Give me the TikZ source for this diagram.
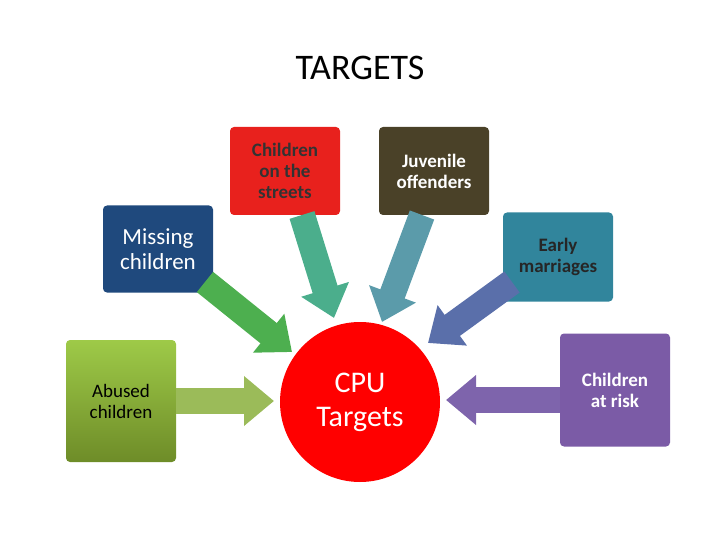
\documentclass[tikz,border=0pt]{standalone}
\usepackage{fontspec}
\setmainfont{Carlito}
\usetikzlibrary{arrows.meta}
\begin{document}
\begin{tikzpicture}[x=1pt,y=-1pt,
 box/.style={rounded corners=4pt,minimum width=110pt,align=center,font=\fontsize{19}{21}\selectfont\bfseries},
 blk/.style={line width=26pt,-{Triangle[length=30pt,width=48pt]}}]
\useasboundingbox (0,0) rectangle (720,540);
\node (title) at (360,68) {\fontsize{36}{40}\selectfont TARGETS};
\node[circle,fill=red,minimum size=160pt,text=white,align=center,font=\fontsize{30}{34}\selectfont] (cpu) at (360,402) {CPU\\Targets};
\node[box,minimum height=122pt,top color={rgb,255:red,158;green,202;blue,72},bottom color={rgb,255:red,110;green,140;blue,40},font=\fontsize{19}{21}\selectfont] (ab) at (121,401) {Abused\\children};
\node[box,minimum height=87pt,fill={rgb,255:red,31;green,73;blue,125},text=white,font=\fontsize{23}{25}\selectfont] (mi) at (158,249) {Missing\\children};
\node[box,minimum height=88pt,fill={rgb,255:red,232;green,33;blue,29},text=black!80] (st) at (285,171) {Children\\on the\\streets};
\node[box,minimum height=88pt,fill={rgb,255:red,74;green,65;blue,40},text=white] (ju) at (434,171) {Juvenile\\offenders};
\node[box,minimum height=89pt,fill={rgb,255:red,49;green,133;blue,156},text=black!85] (ea) at (558,257) {Early\\marriages};
\node[box,minimum height=113pt,fill={rgb,255:red,123;green,91;blue,166},text=white] (ri) at (615,390) {Children\\at risk};
\coordinate (c1) at (274,401);
\coordinate (c2) at (292,352);
\coordinate (c3) at (334,318);
\coordinate (c4) at (382,322);
\coordinate (c5) at (428,343);
\coordinate (c6) at (446,400);
\coordinate (s6) at (560,400);
\draw[blk,draw={rgb,255:red,155;green,187;blue,89}] (ab.east) -- (c1);
\draw[blk,draw={rgb,255:red,77;green,175;blue,79}] (205,282) -- (c2);
\draw[blk,draw={rgb,255:red,75;green,174;blue,140}] (302,215) -- (c3);
\draw[blk,draw={rgb,255:red,91;green,155;blue,170}] (422,215) -- (c4);
\draw[blk,draw={rgb,255:red,90;green,111;blue,170}] (512,282) -- (c5);
\draw[blk,draw={rgb,255:red,126;green,100;blue,172}] (s6) -- (c6);
\end{tikzpicture}
\end{document}
